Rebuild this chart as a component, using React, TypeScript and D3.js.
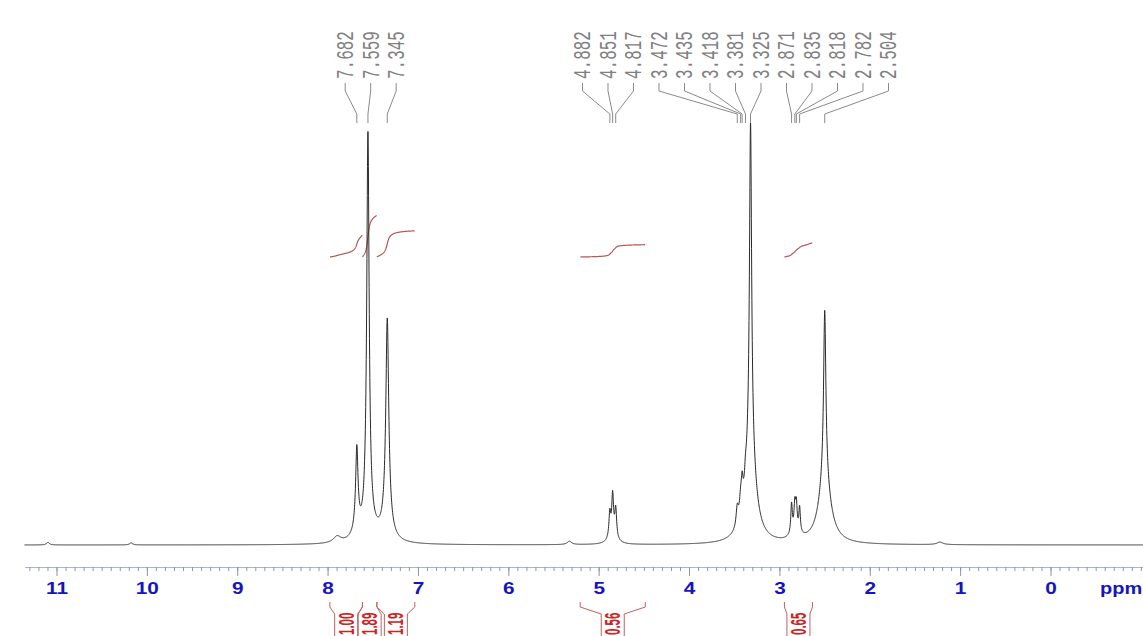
import React from 'react';
import * as d3 from 'd3';

const W = 1143;
const H = 636;

// picked peaks, ppm
const peakLabels = [7.682, 7.559, 7.345, 4.882, 4.851, 4.817, 3.472, 3.435, 3.418, 3.381, 3.325, 2.871, 2.835, 2.818, 2.782, 2.504];

// spectrum lines: position (ppm), height (% of tallest), half width (ppm)
// tall lines are given as a narrow top plus a wider foot
const linePpm = [11.1, 10.18, 7.9, 7.682, 7.682, 7.559, 7.559, 7.5, 7.345, 7.345, 5.33, 4.882, 4.851, 4.85, 4.817, 3.472, 3.435, 3.418, 3.381, 3.325, 3.325, 2.871, 2.835, 2.83, 2.818, 2.782, 2.504, 2.504, 1.23];
const lineHeight = [0.6, 0.5, 1.5, 18, 3, 85, 12, 1.5, 43, 10, 0.8, 6, 10, 1.5, 7, 4.5, 4, 6, 3, 78, 23, 7, 6, 2, 6, 6, 40, 16, 0.6];
const lineWidth = [0.02, 0.02, 0.05, 0.015, 0.04, 0.015, 0.035, 0.15, 0.018, 0.04, 0.03, 0.012, 0.012, 0.06, 0.012, 0.015, 0.015, 0.012, 0.012, 0.014, 0.065, 0.01, 0.01, 0.06, 0.01, 0.01, 0.015, 0.075, 0.04];

// integrals
const integralFrom = [7.98, 7.62, 7.46, 5.21, 2.95];
const integralTo = [7.62, 7.46, 7.04, 4.49, 2.64];
const integralValues = ['1.00', '1.89', '1.19', '0.56', '0.65'];

const axisTicks = [11, 10, 9, 8, 7, 6, 5, 4, 3, 2, 1, 0];

const x = d3.scaleLinear().domain([11, 0]).range([57, 1051]);
const y = d3.scaleLinear().domain([0, 100]).range([545, 128]);

function intensity(p: number) {
  let s = 0;
  for (let i = 0; i < linePpm.length; i++) {
    const w = lineWidth[i];
    const d = p - linePpm[i];
    s += lineHeight[i] * w * w / (d * d + w * w);
  }
  return s;
}

const grid = d3.range(11.36, -1.03, -0.002);
const spectrum = grid.map(p => [p, intensity(p)] as [number, number]);

function spreadLabels(xs: number[], gap: number) {
  let groups = xs.map(v => ({ members: [v], center: v }));
  let merged = true;
  while (merged) {
    merged = false;
    for (let i = 0; i < groups.length - 1; i++) {
      const a = groups[i], b = groups[i + 1];
      const aEnd = a.center + (a.members.length - 1) * gap / 2;
      const bStart = b.center - (b.members.length - 1) * gap / 2;
      if (bStart - aEnd < gap) {
        const members = a.members.concat(b.members);
        groups.splice(i, 2, { members, center: d3.mean(members) as number });
        merged = true;
        break;
      }
    }
  }
  return groups.flatMap(g => g.members.map((_, k) => g.center + (k - (g.members.length - 1) / 2) * gap));
}

export default function App() {
  const line = d3.line<[number, number]>().x(d => x(d[0])).y(d => y(d[1]));
  const peakX = peakLabels.map(p => x(p));
  const labelX = spreadLabels(peakX, 25.5);

  const minor = d3.range(113, -11, -1).map(v => v / 10);

  const curves = integralFrom.map((from, i) => {
    const pts = spectrum.filter(d => d[0] <= from && d[0] >= integralTo[i]);
    let acc = 0;
    const cum = pts.map(d => (acc += d[1]));
    const rise = +integralValues[i] * 22;
    return pts.map((d, j) => [x(d[0]), 257 - cum[j] / acc * rise] as [number, number]);
  });
  const curveLine = d3.line<[number, number]>();

  return (
    <svg width={W} height={H} style={{ position: 'absolute', left: 0, top: 0, background: '#fff' }}>
      {/* peak labels */}
      <g>
        {peakLabels.map((p, i) => (
          <g key={i}>
            <path d={`M${labelX[i]},83 V91 L${peakX[i]},114 V123`} fill="none" stroke="#8a8a8a" strokeWidth={1} />
            <g transform={`translate(${labelX[i]},79) rotate(-90) scale(1,1.45)`}>
              <text x={0} y={5.4} fontFamily="Liberation Mono, DejaVu Sans Mono, monospace" fontSize={16} fill="#808080">
                {p.toFixed(3)}
              </text>
            </g>
          </g>
        ))}
      </g>

      {/* integral curves */}
      <g>
        {curves.map((c, i) => (
          <path key={i} d={curveLine(c) || ''} fill="none" stroke="#b85555" strokeWidth={1.2} />
        ))}
      </g>

      {/* spectrum */}
      <path d={line(spectrum) || ''} fill="none" stroke="#2a2a2a" strokeWidth={1} />

      {/* axis */}
      <line x1={25} x2={W} y1={567.5} y2={567.5} stroke="#a8b4d0" strokeWidth={1} />
      {minor.map((t, i) => (
        <line key={i} x1={x(t)} x2={x(t)} y1={567} y2={571} stroke="#8c94b0" strokeWidth={1} />
      ))}
      {axisTicks.map(t => (
        <g key={t}>
          <line x1={x(t)} x2={x(t)} y1={567} y2={576} stroke="#8c94b0" strokeWidth={1} />
          <text transform={`translate(${x(t)},593.5) scale(1.3,1)`} textAnchor="middle" fontFamily="Liberation Sans, Arial, sans-serif" fontWeight="bold" fontSize={16} fill="#1414c0">
            {t}
          </text>
        </g>
      ))}
      <text transform="translate(1100,593.5) scale(1.25,1)" fontFamily="Liberation Sans, Arial, sans-serif" fontWeight="bold" fontSize={16} fill="#1414c0">ppm</text>

      {/* integral brackets */}
      {integralValues.map((v, i) => {
        const xl = x(integralFrom[i]);
        const xr = x(integralTo[i]);
        const cx = (xl + xr) / 2;
        return (
          <g key={i}>
            <path d={`M${xl},602 V607 L${cx - 11.5},614 V640 M${xr},602 V607 L${cx + 11.5},614 V640`} fill="none" stroke="#c06060" strokeWidth={1} />
            <g transform={`translate(${cx},635) rotate(-90) scale(1,1.85)`}>
              <text x={0} y={4.1} fontFamily="Liberation Sans, Arial, sans-serif" fontWeight="bold" fontSize={11.5} fill="#cc2424">{v}</text>
            </g>
          </g>
        );
      })}
    </svg>
  );
}
